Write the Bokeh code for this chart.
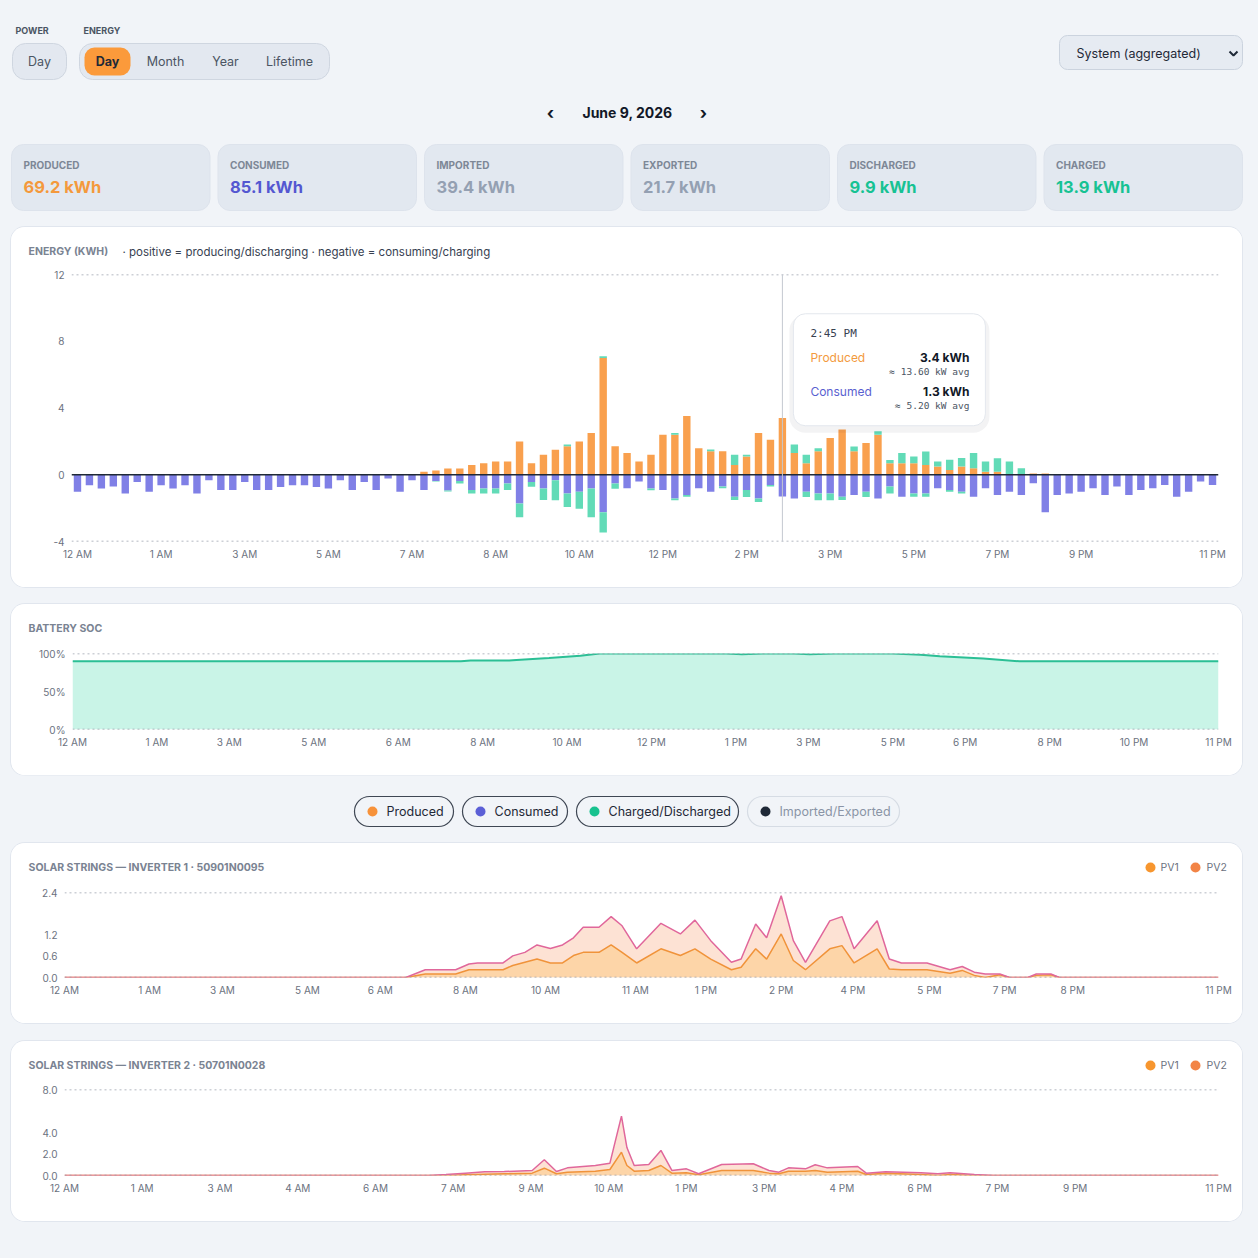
from bokeh.plotting import figure
from bokeh.layouts import column
from bokeh.models import Range1d, FixedTicker, Span, ColumnDataSource
from bokeh.core.properties import value
from bokeh.embed import file_html
from bokeh.resources import INLINE

# ---------------------------------------------------------------- data
# 15-minute energy slots for the day (minutes after midnight)
bar_minutes = list(range(0, 24 * 60, 15))

produced = [
    0, 0, 0, 0, 0, 0, 0, 0, 0, 0, 0, 0,
    0, 0, 0, 0, 0, 0, 0, 0, 0, 0, 0, 0,
    0, 0, 0, 0, 0, 0.18, 0.26, 0.37, 0.37, 0.59, 0.69, 0.79,
    0.79, 2.0, 0.69, 1.2, 1.5, 1.71, 2.0, 2.5, 7.0, 1.71, 1.3, 0.79,
    1.2, 2.4, 2.4, 3.52, 1.59, 1.41, 1.41, 0.59, 1.1, 2.5, 2.1, 3.4,
    1.3, 0.69, 1.41, 2.2, 2.71, 1.41, 1.9, 2.4, 0.69, 0.69, 0.69, 0.59,
    0.49, 0.29, 0.49, 0.39, 0.18, 0.18, 0, 0, 0.08, 0.08, 0, 0,
    0, 0, 0, 0, 0, 0, 0, 0, 0, 0, 0, 0,
]
discharged = [
    0, 0, 0, 0, 0, 0, 0, 0, 0, 0, 0, 0,
    0, 0, 0, 0, 0, 0, 0, 0, 0, 0, 0, 0,
    0, 0, 0, 0, 0, 0, 0, 0, 0, 0, 0, 0,
    0, 0, 0, 0, 0, 0.1, 0, 0, 0.1, 0, 0, 0,
    0, 0, 0.1, 0, 0, 0.1, 0, 0.61, 0.1, 0, 0, 0,
    0.51, 0.51, 0.18, 0, 0, 0.28, 0, 0.2, 0.2, 0.61, 0.41, 0.81,
    0.31, 0.61, 0.51, 0.92, 0.61, 0.81, 0.79, 0.39, 0, 0, 0, 0,
    0, 0, 0, 0, 0, 0, 0, 0, 0, 0, 0, 0,
]
consumed = [
    1.02, 0.63, 0.83, 0.71, 1.12, 0.43, 1.02, 0.63, 0.83, 0.63, 1.12, 0.33,
    0.92, 0.92, 0.43, 0.92, 0.92, 0.73, 0.63, 0.63, 0.73, 0.83, 0.33, 0.92,
    0.43, 0.92, 0.22, 1.02, 0.33, 0.92, 0.37, 0.94, 0.37, 0.92, 0.83, 0.83,
    0.53, 1.73, 0.43, 0.83, 0.33, 1.12, 1.02, 0.83, 2.24, 0.53, 0.81, 0.41,
    0.83, 0.92, 1.43, 1.22, 0.81, 1.02, 0.71, 1.32, 0.92, 1.43, 0.61, 1.3,
    1.43, 1.02, 1.12, 1.12, 1.32, 1.22, 1.02, 1.43, 0.71, 1.32, 1.12, 1.12,
    0.81, 0.92, 1.02, 1.32, 0.81, 1.22, 1.02, 1.22, 0.51, 2.24, 1.22, 1.12,
    1.02, 0.81, 1.22, 0.71, 1.22, 0.92, 0.81, 0.61, 1.32, 1.02, 0.41, 0.61,
]
charged = [
    0, 0, 0, 0, 0, 0, 0, 0, 0, 0, 0, 0,
    0, 0, 0, 0, 0, 0, 0, 0, 0, 0, 0, 0,
    0, 0, 0, 0, 0, 0, 0.04, 0.06, 0.16, 0.20, 0.29, 0.29,
    0.39, 0.81, 0.29, 0.69, 1.2, 0.81, 1.02, 1.71, 1.22, 0.31, 0, 0,
    0.1, 0, 0.1, 0.1, 0, 0, 0.1, 0.2, 0.41, 0.2, 0.1, 0,
    0, 0.31, 0.41, 0.41, 0.2, 0, 0.31, 0, 0.41, 0, 0.2, 0.2,
    0, 0.1, 0.1, 0, 0, 0, 0, 0, 0, 0, 0, 0,
    0, 0, 0, 0, 0, 0, 0, 0, 0, 0, 0, 0,
]
energy_tick_idx = [0, 7, 14, 21, 28, 35, 42, 49, 56, 63, 70, 77, 84, 95]
energy_y_ticks = [-4, 0, 4, 8, 12]
hover_slot = 59

kpi_labels = ["PRODUCED", "CONSUMED", "IMPORTED", "EXPORTED", "DISCHARGED", "CHARGED"]
kpi_values = [69.2, 85.1, 39.4, 21.7, 9.9, 13.9]
kpi_colors = ["#f4993c", "#5457d1", "#94a0b2", "#94a0b2", "#17c293", "#17c293"]

# battery state of charge (sample position, percent)
soc_x = [0, 32.2, 33.0, 36.2, 36.8, 39.5, 42.1, 43.7, 54.2, 55.5, 57.2, 59.8,
         61.1, 63.1, 68.0, 70.3, 71.9, 75.5, 78.5, 95]
soc_pct = [89.8, 89.8, 90.7, 90.7, 91.6, 94.2, 96.9, 100, 100, 99.1, 100, 100,
           99.1, 100, 100, 98.2, 96.4, 93.3, 89.8, 89.8]
soc_tick_x = [0, 7, 13, 20, 27, 34, 41, 48, 55, 61, 68, 74, 81, 88, 95]
soc_tick_labels = ["12 AM", "1 AM", "3 AM", "5 AM", "6 AM", "8 AM", "10 AM", "12 PM",
                   "1 PM", "3 PM", "5 PM", "6 PM", "8 PM", "10 PM", "11 PM"]

# inverter 1 string power (kW)
inv1_x = [0, 28.1, 29.7, 32.2, 33.3, 34.0, 36.1, 36.9, 37.9, 38.9, 40.0, 41.0,
          41.9, 42.7, 44.0, 45.0, 45.9, 47.1, 49.1, 50.7, 51.9, 53.2, 54.9, 55.7,
          56.9, 57.8, 59.0, 60.0, 61.0, 63.0, 64.0, 65.0, 66.9, 67.9, 68.9, 71.0,
          72.9, 73.9, 74.9, 75.8, 77.0, 77.8, 79.3, 80.0, 81.2, 81.9, 95]
inv1_pv1 = [0, 0, 0.10, 0.10, 0.22, 0.22, 0.22, 0.34, 0.43, 0.52, 0.41, 0.41,
            0.62, 0.71, 0.71, 0.92, 0.71, 0.41, 0.81, 0.62, 0.81, 0.52, 0.22, 0.29,
            0.81, 0.52, 1.23, 0.48, 0.22, 0.81, 0.90, 0.41, 0.81, 0.24, 0.22, 0.22,
            0.12, 0.20, 0.06, 0, 0.08, 0, 0, 0.06, 0.08, 0, 0]
inv1_pv2 = [0, 0, 0.12, 0.12, 0.16, 0.19, 0.19, 0.27, 0.28, 0.40, 0.41, 0.51,
            0.50, 0.71, 0.71, 0.80, 0.75, 0.40, 0.72, 0.61, 0.81, 0.52, 0.21, 0.23,
            0.70, 0.60, 1.08, 0.56, 0.21, 0.79, 0.82, 0.40, 0.79, 0.28, 0.19, 0.19,
            0.10, 0.11, 0.09, 0.10, 0.02, 0, 0, 0.04, 0.02, 0, 0]
inv1_tick_x = [0, 7, 13, 20, 26, 33, 39.6, 47, 52.8, 59, 64.9, 71.2, 77.4, 83, 95]
inv1_tick_labels = ["12 AM", "1 AM", "3 AM", "5 AM", "6 AM", "8 AM", "10 AM", "11 AM",
                    "1 PM", "2 PM", "4 PM", "5 PM", "7 PM", "8 PM", "11 PM"]

# inverter 2 string power (kW)
inv2_x = [0, 30.0, 31.4, 33.0, 34.6, 36.2, 38.5, 39.5, 40.5, 41.4, 43.7, 44.9,
          45.85, 46.3, 46.9, 48.1, 49.1, 50.0, 51.2, 52.2, 54.1, 56.7, 58.0, 58.8,
          59.6, 61.0, 61.8, 62.8, 65.3, 66.0, 67.6, 70.5, 71.9, 72.9, 74.9, 76.5, 95]
inv2_pv1 = [0, 0, 0, 0.06, 0.12, 0.16, 0.22, 0.68, 0.16, 0.31, 0.40, 0.56,
            2.17, 0.93, 0.40, 0.47, 0.93, 0.22, 0.25, 0.06, 0.47, 0.47, 0.22, 0.16,
            0.40, 0.40, 0.47, 0.31, 0.40, 0.09, 0.22, 0.09, 0, 0.09, 0, 0, 0]
inv2_pv2 = [0, 0, 0.09, 0.16, 0.22, 0.21, 0.25, 0.78, 0.21, 0.40, 0.53, 0.59,
            3.35, 1.67, 0.53, 0.55, 1.40, 0.25, 0.37, 0.10, 0.55, 0.62, 0.25, 0.15,
            0.31, 0.22, 0.53, 0.40, 0.44, 0.13, 0.12, 0.16, 0.16, 0.16, 0.09, 0, 0]
inv2_tick_x = [0, 6.4, 12.8, 19.2, 25.6, 32, 38.4, 44.8, 51.2, 57.6, 64, 70.4, 76.8, 83.2, 95]
inv2_tick_labels = ["12 AM", "1 AM", "3 AM", "4 AM", "6 AM", "7 AM", "9 AM", "10 AM",
                    "1 PM", "3 PM", "4 PM", "6 PM", "7 PM", "9 PM", "11 PM"]

legend_labels = ["Produced", "Consumed", "Charged/Discharged", "Imported/Exported"]
legend_dot_colors = ["#f7923a", "#5b5fd6", "#18c28f", "#1f2937"]
legend_active = [True, True, True, False]

# ---------------------------------------------------------------- style
PAGE_BG = "#f1f4f8"
FONT = "Inter"
MONO = "DejaVu Sans Mono"
ORANGE = "#f9a04e"
PURPLE = "#8080e6"
TEAL = "#62dbb7"
TICK_COLOR = "#6b7280"
TITLE_COLOR = "#7a8392"
CARD_W = 1231
TITLE_H = 40
CARD_STYLES = {"border-radius": "14px", "overflow": "hidden",
               "box-shadow": "0 0 0 1px #e1e6ee", "background-color": "white"}


def hour_label(minutes):
    h = minutes // 60
    return f"{h % 12 or 12} {'AM' if h < 12 else 'PM'}"


def clock_label(minutes):
    h, m = divmod(minutes, 60)
    return f"{h % 12 or 12}:{m:02d} {'AM' if h < 12 else 'PM'}"


def txt(p, x, y, s, size, color, bold=False, align="left", font=FONT, **kw):
    p.text(x=x if isinstance(x, list) else [x], y=y if isinstance(y, list) else [y],
           text=s if isinstance(s, list) else [s],
           text_font=value(font), text_font_size=size, text_color=color,
           text_font_style="bold" if bold else "normal",
           text_align=align, text_baseline="middle", **kw)


def flat_figure(width, height, bg=PAGE_BG):
    """A plain pixel-space canvas (origin top-left) for page furniture."""
    p = figure(width=width, height=height, x_range=Range1d(0, width),
               y_range=Range1d(height, 0), output_backend="svg",
               toolbar_location=None, tools="", min_border=0,
               x_axis_type=None, y_axis_type=None,
               background_fill_color=bg, border_fill_color=bg,
               outline_line_color=None, frame_align=False)
    p.grid.visible = False
    return p


def chart_figure(height, left, top, x_range, y_range, xticks, xlabels, yticks, ylabels):
    p = figure(width=CARD_W, height=height, x_range=x_range, y_range=y_range,
               output_backend="svg", toolbar_location=None, tools="",
               min_border_left=left, min_border_right=24,
               min_border_top=top, min_border_bottom=46,
               background_fill_color="white", border_fill_color="white",
               outline_line_color=None, frame_align=False)
    p.grid.grid_line_color = None
    for ax in p.axis:
        ax.axis_line_color = None
        ax.major_tick_line_color = None
        ax.minor_tick_line_color = None
        ax.major_tick_out = 0
        ax.major_tick_in = 0
        ax.major_label_text_font = FONT
        ax.major_label_text_font_size = "10px"
        ax.major_label_text_color = TICK_COLOR
    p.xaxis.ticker = FixedTicker(ticks=xticks)
    p.xaxis.major_label_overrides = dict(zip(xticks, xlabels))
    p.xaxis.major_label_standoff = 6
    p.yaxis.ticker = FixedTicker(ticks=yticks)
    p.yaxis.major_label_overrides = dict(zip(yticks, ylabels))
    p.yaxis.major_label_standoff = 7
    return p


def title_strip(title, legend=False):
    t = flat_figure(CARD_W, TITLE_H, bg="white")
    txt(t, 17, 24, title, "10.5px", TITLE_COLOR, bold=True)
    if legend:
        t.scatter(x=[1139, 1184], y=[24, 24], size=10, line_color=None,
                  fill_color=["#f7962f", "#f28446"])
        txt(t, [1149, 1195], [24, 24], ["PV1", "PV2"], "10.5px", "#6b7280")
    return t


def card(strip, chart, margin):
    return column(strip, chart, spacing=0, styles=CARD_STYLES, margin=margin)


def dotted(p, loc):
    p.add_layout(Span(location=loc, dimension="width", line_color="#9aa1ad",
                      line_width=1.5, line_dash="2 3"))


# ---------------------------------------------------------------- header
hdr = flat_figure(1258, 227)
txt(hdr, 15, 30, "POWER", "9px", "#4b5563", bold=True)
txt(hdr, 83, 30, "ENERGY", "9px", "#4b5563", bold=True)
hdr.quad(left=[12, 79], right=[66, 329], top=[43, 43], bottom=[79, 79],
         fill_color="#e3e8f0", line_color="#cfd6e0", border_radius=13)
hdr.quad(left=[84], right=[130], top=[47], bottom=[75],
         fill_color="#fb9a3b", line_color=None, border_radius=10)
txt(hdr, 39, 61, "Day", "12.5px", "#4b5563", align="center")
txt(hdr, 107, 61, "Day", "12.5px", "#1f2937", bold=True, align="center")
txt(hdr, [165, 225, 289], [61, 61, 61], ["Month", "Year", "Lifetime"],
    "12.5px", "#4b5563", align="center")

txt(hdr, 550, 112, "‹", "17px", "#111827", bold=True, align="center")
txt(hdr, 627, 112, "June 9, 2026", "14px", "#111827", bold=True, align="center")
txt(hdr, 703, 112, "›", "17px", "#111827", bold=True, align="center")

hdr.quad(left=[1059], right=[1242], top=[35], bottom=[69],
         fill_color="#e6ebf2", line_color="#cbd3de", border_radius=8)
txt(hdr, 1076, 53, "System (aggregated)", "12.5px", "#1f2937")
hdr.line([1229, 1233, 1237], [51, 55, 51], line_color="#1f2937", line_width=2)

card_w, card_gap = 198.5, 8.0
kpi_left = [11 + i * (card_w + card_gap) for i in range(len(kpi_labels))]
hdr.quad(left=kpi_left, right=[l + card_w for l in kpi_left],
         top=[144] * len(kpi_left), bottom=[210] * len(kpi_left),
         fill_color="#e2e8f0", line_color="#dde3ec", border_radius=12)
txt(hdr, [l + 12 for l in kpi_left], [164] * len(kpi_left), kpi_labels,
    "10px", "#7d8796", bold=True)
hdr.text(x=[l + 12 for l in kpi_left], y=[186] * len(kpi_left),
         text=[f"{v} kWh" for v in kpi_values], text_color=kpi_colors,
         text_font=value(FONT), text_font_size="16.5px", text_font_style="bold",
         text_baseline="middle", text_align="left")

# ---------------------------------------------------------------- energy bars
energy_strip = title_strip("ENERGY (KWH)")
txt(energy_strip, 111, 24,
    "· positive = producing/discharging · negative = consuming/charging",
    "11.5px", "#374151")
energy = chart_figure(360 - TITLE_H, 60, 47 - TITLE_H, Range1d(-0.5, 95.5), Range1d(-4, 12),
                      energy_tick_idx, [hour_label(bar_minutes[i]) for i in energy_tick_idx],
                      energy_y_ticks, [str(v) for v in energy_y_ticks])
src = ColumnDataSource(dict(
    x=list(range(len(bar_minutes))),
    produced=produced, discharged=discharged,
    consumed_neg=[-v for v in consumed], charged_neg=[-v for v in charged],
))
energy.vbar_stack(["produced", "discharged"], x="x", width=0.62, source=src,
                  fill_color=[ORANGE, TEAL], line_color=None)
energy.vbar_stack(["consumed_neg", "charged_neg"], x="x", width=0.62, source=src,
                  fill_color=[PURPLE, TEAL], line_color=None)
dotted(energy, 12)
dotted(energy, -4)
energy.add_layout(Span(location=0, dimension="width", line_color="#1f2937", line_width=1.5))
energy.add_layout(Span(location=hover_slot, dimension="height", line_color="#c4c9d1", line_width=1))

# hover card for the highlighted slot
X_PX = 1147 / 96.0
Y_PX = 267 / 16.0
tip_left = hover_slot + 11 / X_PX
tip_right = hover_slot + 203 / X_PX
tip_top = 161 / Y_PX
tip_bottom = 49 / Y_PX
energy.quad(left=[tip_left - 4 / X_PX], right=[tip_right + 4 / X_PX],
            top=[tip_top - 1 / Y_PX], bottom=[tip_bottom - 7 / Y_PX],
            fill_color="#0f172a", fill_alpha=0.05, line_color=None, border_radius=16)
energy.quad(left=[tip_left], right=[tip_right], top=[tip_top], bottom=[tip_bottom],
            fill_color="white", line_color="#e3e7ed", border_radius=12)
p_val, c_val = produced[hover_slot], consumed[hover_slot]
slot_hours = 15 / 60
txt(energy, hover_slot, tip_top, clock_label(bar_minutes[hover_slot]), "11px", "#374151",
    font=MONO, x_offset=28, y_offset=20)
txt(energy, hover_slot, tip_top, "Produced", "12px", "#f39a3d", x_offset=28, y_offset=44)
txt(energy, hover_slot, tip_top, f"{p_val:.1f} kWh", "12px", "#111827", bold=True,
    align="right", x_offset=187, y_offset=44)
txt(energy, hover_slot, tip_top, f"≈ {p_val / slot_hours:.2f} kW avg", "9.5px", "#4b5563",
    font=MONO, align="right", x_offset=187, y_offset=58)
txt(energy, hover_slot, tip_top, "Consumed", "12px", "#5a5fd0", x_offset=28, y_offset=78)
txt(energy, hover_slot, tip_top, f"{c_val:.1f} kWh", "12px", "#111827", bold=True,
    align="right", x_offset=187, y_offset=78)
txt(energy, hover_slot, tip_top, f"≈ {c_val / slot_hours:.2f} kW avg", "9.5px", "#4b5563",
    font=MONO, align="right", x_offset=187, y_offset=92)

energy_card = card(energy_strip, energy, (0, 0, 0, 11))

# ---------------------------------------------------------------- battery SOC
soc_strip = title_strip("BATTERY SOC")
soc = chart_figure(171 - TITLE_H, 61, 49 - TITLE_H, Range1d(0, 95), Range1d(0, 100),
                   soc_tick_x, soc_tick_labels, [0, 50, 100], ["0%", "50%", "100%"])
soc.varea(x=soc_x, y1=0, y2=soc_pct, fill_color="#c9f4e7")
soc.line(soc_x, soc_pct, line_color="#2bbf95", line_width=2)
dotted(soc, 100)
dotted(soc, 0)
soc_card = card(soc_strip, soc, (17, 0, 0, 11))

# ---------------------------------------------------------------- series toggles
leg = flat_figure(1258, 68)
pill_left = [354, 462, 576, 747]
pill_right = [453, 567, 738, 899]
leg.quad(left=pill_left, right=pill_right, top=[21] * 4, bottom=[51] * 4,
         fill_color=None, border_radius=15,
         line_color=["#3f4754" if a else "#d6dce4" for a in legend_active], line_width=1.2)
leg.scatter(x=[l + 18 for l in pill_left], y=[36] * 4, size=10,
            fill_color=legend_dot_colors, line_color=None)
leg.text(x=[l + 32 for l in pill_left], y=[36] * 4, text=legend_labels,
         text_color=["#1f2937" if a else "#8a94a6" for a in legend_active],
         text_font=value(FONT), text_font_size="12.5px",
         text_baseline="middle", text_align="left")


# ---------------------------------------------------------------- solar strings
def strings_card(title, xs, pv1, pv2, ymax, yticks, ylabels, xticks, xlabels, top, margin):
    strip = title_strip(title, legend=True)
    p = chart_figure(180 - TITLE_H, 53, top - TITLE_H, Range1d(0, 95), Range1d(0, ymax),
                     xticks, xlabels, yticks, ylabels)
    total = [a + b for a, b in zip(pv1, pv2)]
    p.varea(x=xs, y1=0, y2=total, fill_color="#fde2d4")
    p.varea(x=xs, y1=0, y2=pv1, fill_color="#fdd5a8")
    dotted(p, ymax)
    dotted(p, 0)
    p.line(xs, pv1, line_color="#f0933a", line_width=1.5)
    p.line(xs, total, line_color="#e0679b", line_width=1.5)
    return card(strip, p, margin)


inv1_card = strings_card("SOLAR STRINGS — INVERTER 1 · 50901N0095", inv1_x, inv1_pv1, inv1_pv2,
                         2.4, [0, 0.6, 1.2, 2.4], ["0.0", "0.6", "1.2", "2.4"],
                         inv1_tick_x, inv1_tick_labels, 49, (0, 0, 0, 11))
inv2_card = strings_card("SOLAR STRINGS — INVERTER 2 · 50701N0028", inv2_x, inv2_pv1, inv2_pv2,
                         8, [0, 2, 4, 8], ["0.0", "2.0", "4.0", "8.0"],
                         inv2_tick_x, inv2_tick_labels, 48, (18, 0, 0, 11))

root = column(hdr, energy_card, soc_card, leg, inv1_card, inv2_card, spacing=0,
              width=1258, height=1258, styles={"background-color": PAGE_BG})

open("out.html", "w").write(file_html(root, INLINE))
